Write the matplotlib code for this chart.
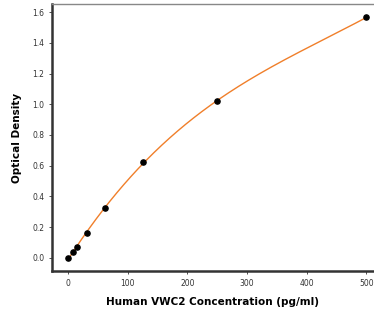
import numpy as np
import matplotlib
matplotlib.use("Agg")
import matplotlib.pyplot as plt

conc = [0, 7.8, 15.6, 31.25, 62.5, 125, 250, 500]
od = [0.0, 0.038, 0.072, 0.163, 0.325, 0.622, 1.021, 1.565]

fig = plt.figure(figsize=(3.74, 3.15), dpi=100)
ax = fig.add_axes([0.139, 0.14, 0.861, 0.847])

coef = np.polyfit(conc, od, 3)
xs = np.linspace(0, 500, 300)
ax.plot(xs, np.polyval(coef, xs), color="#f07f2a", lw=1.0, zorder=2)
ax.scatter(conc, od, color="black", s=14, zorder=3)

ax.set_xlim(-27, 513)
ax.set_ylim(-0.085, 1.652)
ax.set_xticks([0, 100, 200, 300, 400, 500])
ax.set_yticks([0.0, 0.2, 0.4, 0.6, 0.8, 1.0, 1.2, 1.4, 1.6])
ax.tick_params(labelsize=5.5, length=2.5, width=0.6, colors="#333333", pad=3)
ax.yaxis.set_major_formatter(matplotlib.ticker.FormatStrFormatter("%.1f"))

for s in ["left", "bottom"]:
    ax.spines[s].set_linewidth(1.8)
    ax.spines[s].set_color("#333333")
ax.spines["top"].set_linewidth(1.0)
ax.spines["top"].set_color("#888888")
ax.spines["right"].set_visible(False)

ax.set_xlabel("Human VWC2 Concentration (pg/ml)", fontsize=7.5, fontweight="bold", labelpad=7)
ax.set_ylabel("Optical Density", fontsize=7.5, fontweight="bold", labelpad=7)

fig.savefig("out.png", dpi=100)
